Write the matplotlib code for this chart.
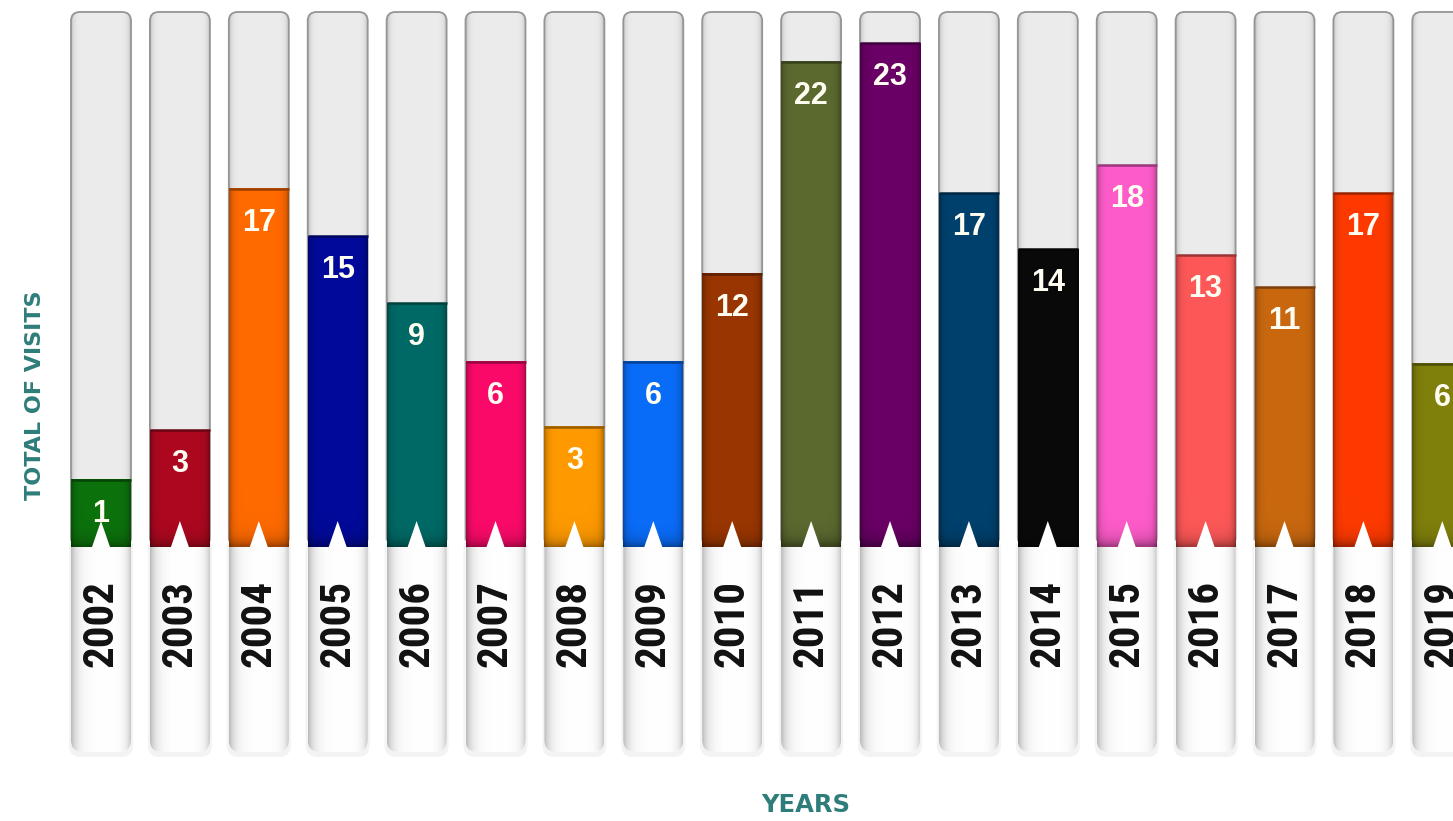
import numpy as np
import matplotlib
matplotlib.use("Agg")
import matplotlib.pyplot as plt
from matplotlib.patches import FancyBboxPatch, Polygon
from matplotlib import font_manager
from matplotlib.colors import to_rgb

# ---------------- data ----------------
years = ['2002', '2003', '2004', '2005', '2006', '2007', '2008', '2009', '2010',
         '2011', '2012', '2013', '2014', '2015', '2016', '2017', '2018', '2019']
visits = [1, 3, 17, 15, 9, 6, 3, 6, 12, 22, 23, 17, 14, 18, 13, 11, 17, 6]
# bar fill levels as drawn on the chart's own scale
bar_levels = [3.06, 5.34, 16.35, 14.2, 11.14, 8.45, 5.48, 8.45, 12.47,
              22.15, 23.0, 16.16, 13.6, 17.44, 13.33, 11.87, 16.16, 8.36]
bar_colors = ['#0c720c', '#ad0820', '#ff6a00', '#000a9a', '#006a66', '#fc0a6a',
              '#ff9a00', '#0a6dfa', '#9a3600', '#5c6a30', '#6a0066', '#00416e',
              '#0a0a0a', '#ff5ccb', '#ff5858', '#c9680f', '#ff3a00', '#80800c']
track_max = 24.43
y_label = 'TOTAL OF VISITS'
x_label = 'YEARS'

# ---------------- fonts ----------------
names = {f.name for f in font_manager.fontManager.ttflist}
if 'Roboto Condensed' in names:
    year_font = dict(family='Roboto Condensed', fontweight='bold', fontsize=31)
elif 'Liberation Sans Narrow' in names:
    year_font = dict(family='Liberation Sans Narrow', fontweight='bold', fontsize=31)
else:
    year_font = dict(family='DejaVu Sans', fontstretch='condensed', fontweight='bold', fontsize=27)
value_font = dict(family='Liberation Sans', fontweight='bold', fontsize=22)

W, H = 1453, 821
fig = plt.figure(figsize=(W / 100, H / 100), dpi=100)
ax = fig.add_axes([0, 0, 1, 1])
ax.axis('off')

px_x = 78.9      # pixels per category
px_y = 21.9      # pixels per value unit
xmin = -101 / px_x
xmax = xmin + W / px_x
ymax = 547 / px_y
ymin = ymax - H / px_y

bw = 60 / px_x
box_bottom = -205 / px_y
ma = px_x / px_y
r_track = 9 / px_x
r_box = 12 / px_x
tri_w = 18 / px_x
tri_h = 26 / px_y
val_off = 34 / px_y

t = np.linspace(0, 1, 80)

def edge_profile(scale_l, scale_r, amp_l, amp_r):
    return 1 - amp_l * np.exp(-t / scale_l) - amp_r * np.exp(-(1 - t) / scale_r)

for i, (yr, v, lvl, col) in enumerate(zip(years, visits, bar_levels, bar_colors)):
    x = i
    # ---- track ----
    track = FancyBboxPatch((x - bw / 2, 0), bw, track_max,
                           boxstyle=f"round,pad=0,rounding_size={r_track}",
                           mutation_aspect=ma, facecolor='#ececec',
                           edgecolor='none', zorder=1)
    ax.add_patch(track)
    prof = 0.925 * edge_profile(0.04, 0.04, 0.2, 0.2)
    img = np.repeat(prof[None, :, None], 3, axis=2)
    im = ax.imshow(img, extent=[x - bw / 2, x + bw / 2, 0, track_max],
                   aspect='auto', interpolation='bilinear', zorder=1.1)
    im.set_clip_path(track)
    ax.add_patch(FancyBboxPatch((x - bw / 2, 0), bw, track_max,
                                boxstyle=f"round,pad=0,rounding_size={r_track}",
                                mutation_aspect=ma, facecolor='none',
                                edgecolor='#959595', lw=1.3, zorder=1.2))

    # ---- label box shadow + box ----
    shadow = FancyBboxPatch((x - bw / 2 - 2 / px_x, box_bottom - 5 / px_y),
                            bw + 4 / px_x, -box_bottom + 5 / px_y + 0.5,
                            boxstyle=f"round,pad=0,rounding_size={r_box}",
                            mutation_aspect=ma, facecolor='#f3f3f3',
                            edgecolor='none', zorder=1.5)
    ax.add_patch(shadow)
    box = FancyBboxPatch((x - bw / 2, box_bottom), bw, -box_bottom + 0.5,
                         boxstyle=f"round,pad=0,rounding_size={r_box}",
                         mutation_aspect=ma, facecolor='white',
                         edgecolor='none', zorder=2)
    ax.add_patch(box)
    bprof = edge_profile(0.1, 0.07, 0.27, 0.22)
    bimg = np.repeat(bprof[None, :, None], 3, axis=2)
    bim = ax.imshow(bimg, extent=[x - bw / 2, x + bw / 2, box_bottom, 0.5],
                    aspect='auto', interpolation='bilinear', zorder=2.1)
    bim.set_clip_path(box)

    # ---- coloured bar ----
    base = np.array(to_rgb(col))
    cprof = edge_profile(0.05, 0.05, 0.32, 0.32)
    nrow = 120
    rows_px = np.linspace(0, lvl * px_y, nrow)
    rprof = 1 - 0.35 * np.exp(-rows_px / 7)
    shade = rprof[::-1, None] * cprof[None, :]
    cimg = np.clip(base[None, None, :] * shade[:, :, None], 0, 1)
    ax.imshow(cimg, extent=[x - bw / 2, x + bw / 2, 0, lvl],
              aspect='auto', interpolation='bilinear', zorder=3)
    ax.plot([x - bw / 2, x + bw / 2], [lvl, lvl], color=base * 0.6,
            lw=1.8, zorder=3.1, solid_capstyle='butt')

    # ---- white notch ----
    ax.add_patch(Polygon([(x - tri_w / 2, 0), (x + tri_w / 2, 0), (x, tri_h)],
                         closed=True, facecolor='white', edgecolor='none', zorder=4))

    # ---- value label ----
    ax.text(x, lvl - val_off, str(v), ha='center', va='center', color='#fffdf2',
            zorder=5, **value_font)

    # ---- year label ----
    ax.text(x, -76 / px_y, yr, ha='center', va='center', rotation=90,
            color='#111111', zorder=5, **year_font)

ax.set_xlim(xmin, xmax)
ax.set_ylim(ymin, ymax)

fig.text(35 / W, 1 - 395 / H, y_label, rotation=90, ha='center', va='center',
         color='#2e7d7a', fontsize=16, fontweight='bold', family='DejaVu Sans')
fig.text(806 / W, 1 - 805 / H, x_label, ha='center', va='center',
         color='#2e7d7a', fontsize=17.5, fontweight='bold', family='DejaVu Sans')

fig.savefig('out.png', dpi=100, facecolor='white')
